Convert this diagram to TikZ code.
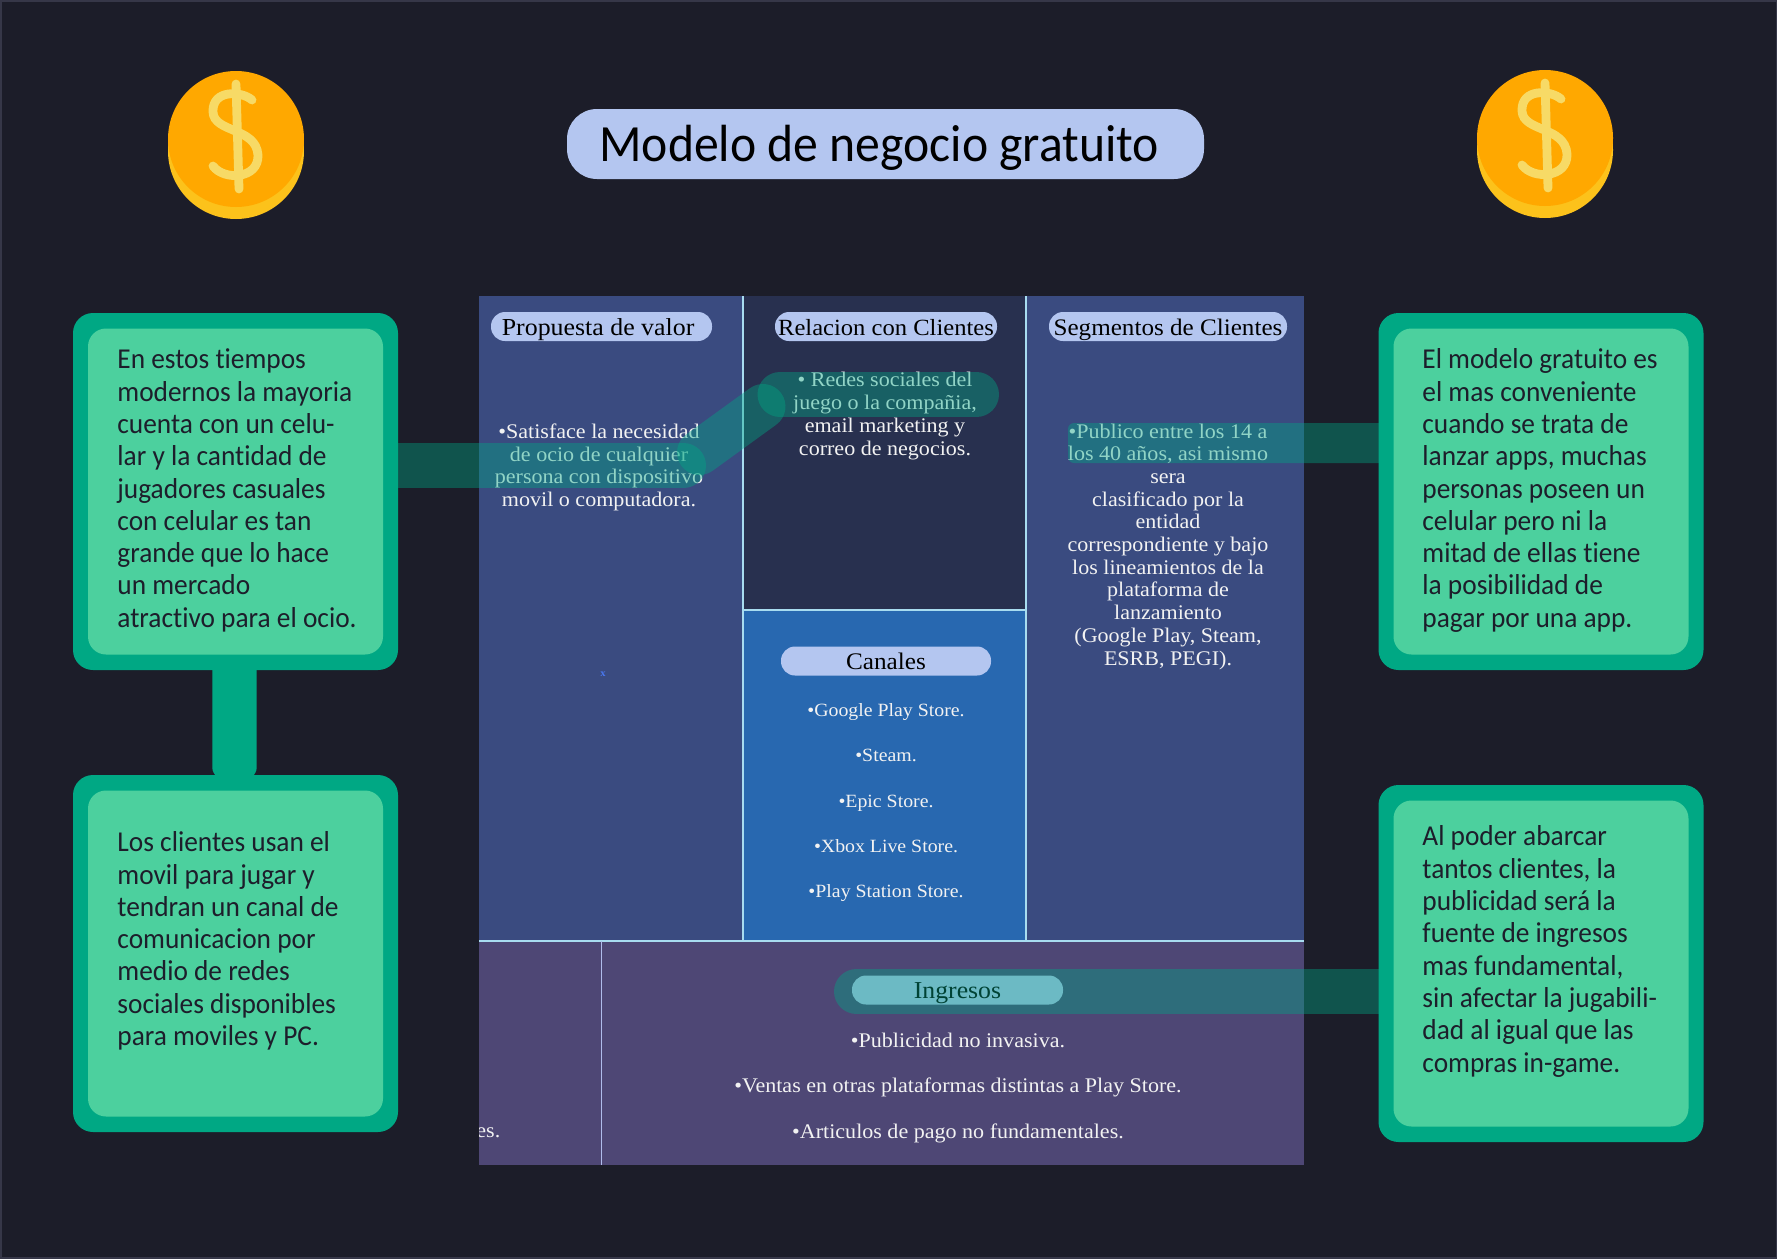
\documentclass[tikz,border=0pt]{standalone}
\usepackage{fontspec}
\setmainfont{Liberation Serif}[FakeStretch=1.06]
\newfontfamily\bodyfont{Carlito}[FakeStretch=0.95,Ligatures=NoCommon]
\usetikzlibrary{calc}
\definecolor{bgc}{HTML}{1C1D29}
\definecolor{edgec}{HTML}{363748}
\definecolor{outerc}{HTML}{00A884}
\definecolor{innerc}{HTML}{4CD09E}
\definecolor{colc}{HTML}{3A4B80}
\definecolor{relc}{HTML}{28304F}
\definecolor{canc}{HTML}{2868B0}
\definecolor{botc}{HTML}{4E4775}
\definecolor{linec}{HTML}{A8DCF0}
\definecolor{linebc}{HTML}{B0BCEB}
\definecolor{pillc}{HTML}{B4C6F0}
\definecolor{txtc}{HTML}{F2F2F2}
\definecolor{darkt}{HTML}{1D1E2B}
\definecolor{coinc}{HTML}{FFA800}
\definecolor{coinb}{HTML}{FCC21B}
\definecolor{coind}{HTML}{F7DA66}
\definecolor{markc}{HTML}{4A78F0}
\tikzset{
 x=0.5pt,y=-0.5pt,
 outerbox/.style={fill=outerc,rounded corners=10pt,minimum width=162.5pt,inner sep=0pt,anchor=center},
 innerbox/.style={fill=innerc,rounded corners=9pt,minimum width=147.5pt,inner sep=0pt,anchor=center},
 bodytext/.style={font=\bodyfont\fontsize{14.4}{16.15}\selectfont,text=darkt,align=left,anchor=west,inner sep=0pt},
 pillbox/.style={fill=pillc,rounded corners=7pt,minimum height=14.5pt,inner sep=0pt,text=black,text height=8.8pt,text depth=0pt},
 celltext/.style={font=\fontsize{10.4}{11.35}\selectfont,text=txtc,align=center,inner sep=0pt},
 lineitem/.style={font=\fontsize{10.4}{11.35}\selectfont,text=txtc,inner sep=0pt,text height=7.1pt,text depth=0pt},
 overlayband/.style={draw=outerc,draw opacity=.4,line width=22.5pt,line cap=round},
 coin/.pic={
  \fill[coinb] (0,12) circle[radius=34pt];
  \fill[coinc] (-68,0) -- (-68,6) -- (68,6) -- (68,0) -- cycle;
  \fill[coinc] (0,0) circle[radius=34pt];
  \draw[coind,line width=4.4pt,line cap=round] (0,-55) -- (3,50);
  \draw[coind,line width=4.4pt,line cap=round] (16,-39) .. controls (6,-48) and (-24,-50) .. (-23,-27) .. controls (-22,-6) and (20,-12) .. (22,16) .. controls (23,40) and (-12,42) .. (-23,27);
 }
}
\begin{document}
\begin{tikzpicture}
\useasboundingbox (0,0) rectangle (1777,1258);
\fill[bgc] (0,0) rectangle (1777,1258);
\draw[edgec,line width=1.5pt] (0,0) rectangle (1777,1258);
% coins
\pic at (236,139) {coin};
\pic at (1545,138) {coin};
% title
\node (title) [fill=pillc,rounded corners=15pt,minimum width=318.5pt,minimum height=35pt,inner sep=0pt,font=\bodyfont\fontsize{26.15}{28}\selectfont,text=black,text height=18pt,text depth=0.9pt] at (885.5,144) {Modelo de negocio gratuito\kern6.2pt};
% table
\fill[colc] (479,296) rectangle (743,941);
\fill[relc] (743,296) rectangle (1026,610);
\fill[canc] (743,610) rectangle (1026,941);
\fill[colc] (1026,296) rectangle (1304,941);
\fill[botc] (479,941) rectangle (1304,1165);
\draw[linec,line width=1pt] (743,296) -- (743,941);
\draw[linec,line width=1pt] (1026,296) -- (1026,941);
\draw[linec,line width=1pt] (743,610) -- (1026,610);
\draw[linec,line width=1pt] (479,941) -- (1304,941);
\draw[linebc,line width=.8pt] (601.5,941) -- (601.5,1165);
% pills
\node (p1) [pillbox,minimum width=110.5pt,font=\fontsize{12.2}{13}\selectfont] at (601.5,326.5) {Propuesta de valor\kern3.4pt};
\node (p2) [pillbox,minimum width=111pt,font=\fontsize{11.6}{13}\selectfont] at (886,326.5) {Relacion con Clientes};
\node (p3) [pillbox,minimum width=119pt,font=\fontsize{11.85}{13}\selectfont] at (1168,326.5) {Segmentos de Clientes};
\node (p4) [pillbox,minimum width=105pt,font=\fontsize{11.9}{13}\selectfont] at (886,661) {Canales};
\node (p5) [pillbox,minimum width=105.5pt,font=\fontsize{12.15}{13}\selectfont] at (957.5,990) {Ingresos};
% cell texts
\node (c1) [celltext] at (599,467.3) {•Satisface la necesidad\\de ocio de cualquier\\persona con dispositivo\\movil o computadora.};
\node (c2) [celltext] at (885,416) {• Redes sociales del\\juego o la compañia,\\email marketing y\\correo de negocios.};
\node (c3) [celltext] at (1168,546.5) {•Publico entre los 14 a\\los 40 años, asi mismo\\sera\\clasificado por la\\entidad\\correspondiente y bajo\\los lineamientos de la\\plataforma de\\lanzamiento\\(Google Play, Steam,\\ESRB, PEGI).};
\node (l1) [lineitem,font=\fontsize{9.35}{11.35}\selectfont] at (886,709.5) {•Google Play Store.};
\node (l2) [lineitem,font=\fontsize{9.35}{11.35}\selectfont] at (886,754) {•Steam.};
\node (l3) [lineitem,font=\fontsize{9.35}{11.35}\selectfont] at (886,800) {•Epic Store.};
\node (l4) [lineitem,font=\fontsize{9.35}{11.35}\selectfont] at (886,845.5) {•Xbox Live Store.};
\node (l5) [lineitem,font=\fontsize{9.35}{11.35}\selectfont] at (886,890.5) {•Play Station Store.};
\node (i1) [lineitem] at (958,1040.5) {•Publicidad no invasiva.};
\node (i2) [lineitem] at (958,1085.5) {•Ventas en otras plataformas distintas a Play Store.};
\node (i3) [lineitem] at (958,1131) {•Articulos de pago no fundamentales.};
\begin{scope}
\clip (479,941) rectangle (601,1165);
\node (es) [lineitem,anchor=base west] at (476,1137) {es.};
\end{scope}
\node (xm) [font=\bfseries\fontsize{5}{5}\selectfont,text=markc,inner sep=0pt] at (603,674.5) {x};
% side boxes coordinates
\coordinate (aCenter) at (235.5,491.5);
\coordinate (bCenter) at (235.5,953.5);
\coordinate (cCenter) at (1541,491.5);
\coordinate (dCenter) at (1541,963.5);
\coordinate (ovAfree) at (683.5,465.5);
\coordinate (ovAstart) at (380,465.5);
\coordinate (ovB1) at (699.5,452.5);
\coordinate (ovB2) at (763,406.5);
\coordinate (ovC1) at (780,394.5);
\coordinate (ovC2) at (976.5,394.5);
\coordinate (ovE1) at (856.5,991.5);
\coordinate (ovE2) at (1400,991.5);
% translucent connectors
\draw[overlayband] (ovAstart) -- (ovAfree);
\draw[overlayband] (ovB1) -- (ovB2);
\draw[overlayband] (ovC1) -- (ovC2);
\draw[overlayband] (ovE1) -- (ovE2);
\fill[outerc,fill opacity=.4,rounded corners=3pt] (1068,423) rectangle (1400,463);
% side boxes
\node (a) [outerbox,minimum height=178.5pt] at (aCenter) {};
\node (b) [outerbox,minimum height=178.5pt] at (bCenter) {};
\node (c) [outerbox,minimum height=178.5pt] at (cCenter) {};
\node (d) [outerbox,minimum height=178.5pt] at (dCenter) {};
\fill[outerc] ($(a.south)+(-23.2,-2)$) -- ($(b.north)+(-23.2,-10)$) .. controls ($(b.north)+(-23.2,-4)$) .. ($(b.north)+(-20,1)$) -- ($(b.north)+(18,1)$) .. controls ($(b.north)+(21.2,-4)$) .. ($(b.north)+(21.2,-10)$) -- ($(a.south)+(21.2,-2)$) -- cycle;
\node (ai) [innerbox,minimum height=163pt] at (aCenter) {};
\node (bi) [innerbox,minimum height=163pt] at (bCenter) {};
\node (ci) [innerbox,minimum height=163pt] at (cCenter) {};
\node (di) [innerbox,minimum height=163pt] at (dCenter) {};
\node (ta) [bodytext] at (117,490.5) {En estos tiempos\\modernos la mayoria\\cuenta con un celu-\\lar y la cantidad de\\jugadores casuales\\con celular es tan\\grande que lo hace\\un mercado\\atractivo para el ocio.};
\node (tb) [bodytext] at (117,941) {Los clientes usan el\\movil para jugar y\\tendran un canal de\\comunicacion por\\medio de redes\\sociales disponibles\\para moviles y PC.};
\node (tc) [bodytext] at (1422,490.5) {El modelo gratuito es\\el mas conveniente\\cuando se trata de\\lanzar apps, muchas\\personas poseen un\\celular pero ni la\\mitad de ellas tiene\\la posibilidad de\\pagar por una app.};
\node (td) [bodytext] at (1422,951.5) {Al poder abarcar\\tantos clientes, la\\publicidad será la\\fuente de ingresos\\mas fundamental,\\sin afectar la jugabili-\\dad al igual que las\\compras in-game.};
\end{tikzpicture}
\end{document}
